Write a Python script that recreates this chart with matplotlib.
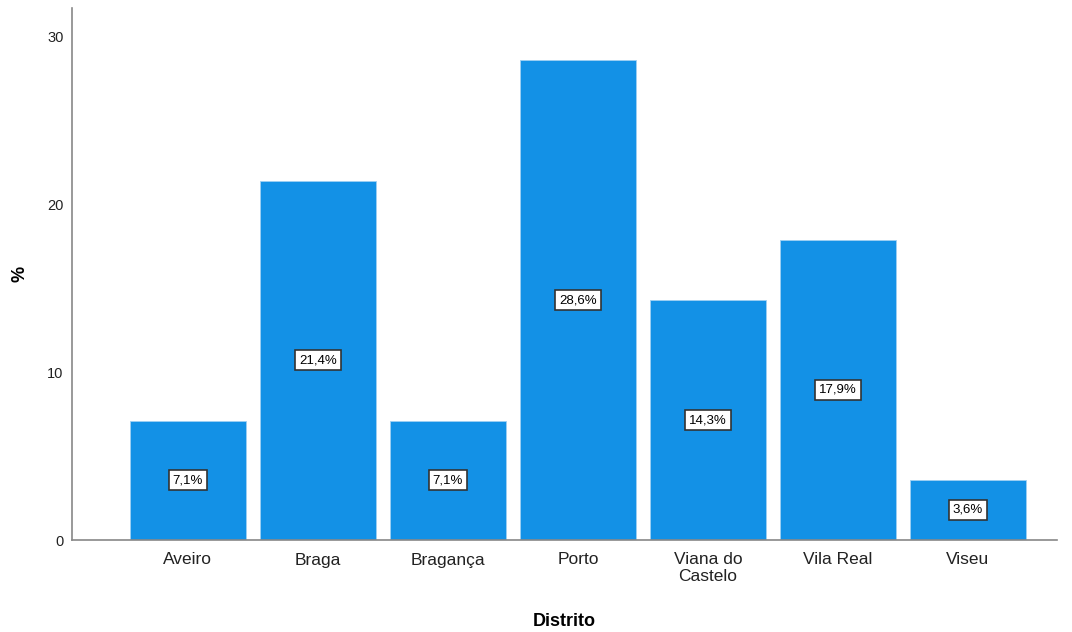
import matplotlib
matplotlib.use("Agg")
import matplotlib.pyplot as plt

categories = ["Aveiro", "Braga", "Bragança", "Porto", "Viana do\nCastelo", "Vila Real", "Viseu"]
values = [7.1, 21.4, 7.1, 28.6, 14.3, 17.9, 3.6]
labels = ["7,1%", "21,4%", "7,1%", "28,6%", "14,3%", "17,9%", "3,6%"]
yticks = [0, 10, 20, 30]

plt.rcParams['font.family'] = ['Liberation Sans', 'DejaVu Sans']
fig = plt.figure(figsize=(10.72, 6.32), dpi=100)
ax = fig.add_axes([72/1072, 92/632, (1057-72)/1072, (540-8)/632])

x = list(range(len(categories)))
ax.bar(x, values, width=0.892, color="#1391E6", edgecolor="#9FD0F2", linewidth=0.6, zorder=2)
for xi, v, lab in zip(x, values, labels):
    ax.text(xi, v/2, lab, ha="center", va="center", fontsize=9.5, color="black", zorder=3,
            bbox=dict(boxstyle="square,pad=0.3", facecolor="white", edgecolor="#333333", linewidth=1.2))

ax.set_xlim(-0.892, 6.685)
ax.set_ylim(0, 31.7)
ax.set_xticks(x)
ax.set_xticklabels(categories, fontsize=12.5, color="#222222", linespacing=1.1)
ax.set_yticks(yticks)
ax.set_yticklabels([str(t) for t in yticks], fontsize=10.5, color="#222222")
ax.tick_params(axis="both", length=0)
ax.tick_params(axis="x", pad=9)
ax.tick_params(axis="y", pad=6)
for s in ["top", "right"]:
    ax.spines[s].set_visible(False)
for s in ["left", "bottom"]:
    ax.spines[s].set_color("#888888")
    ax.spines[s].set_linewidth(1.2)
ax.set_xlabel("Distrito", fontsize=13, fontweight="bold")
ax.xaxis.set_label_coords(0.5, -(622-540)/532, transform=ax.transAxes)
ax.xaxis.label.set_va("center")
ax.set_ylabel("%", fontsize=13, fontweight="bold")
ax.yaxis.set_label_coords((20-72)/985, 0.5)
ax.yaxis.label.set_va("center")
fig.savefig("out.png", dpi=100)
